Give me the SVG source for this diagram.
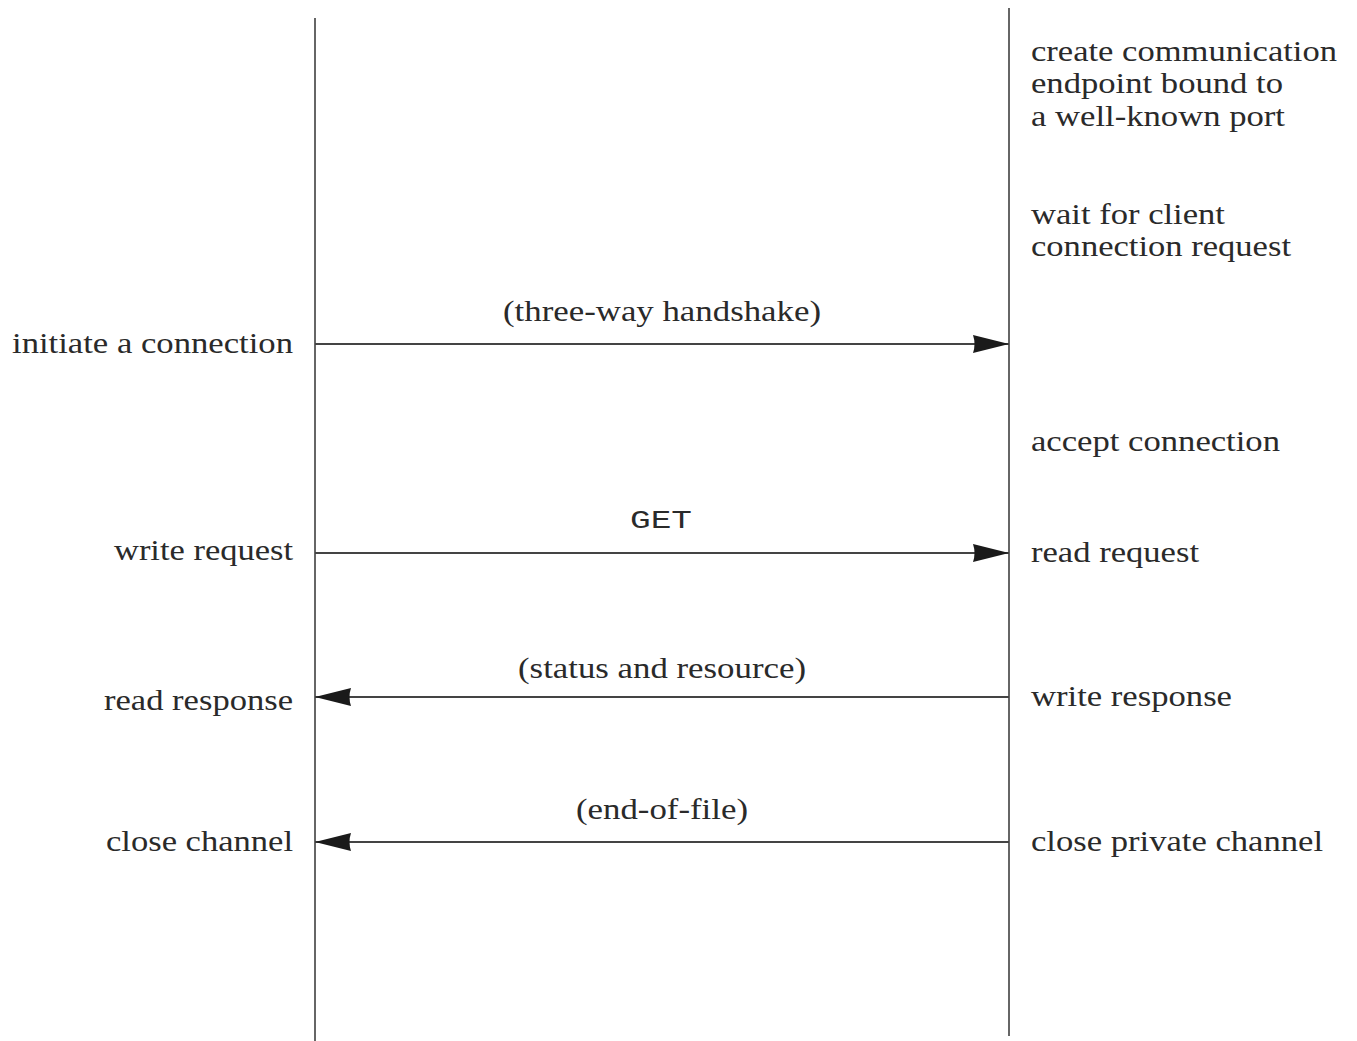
<svg xmlns="http://www.w3.org/2000/svg" width="1357" height="1041" viewBox="0 0 1357 1041">
<style>
.t{font-size:30px;fill:#2a2a2a}
.m{font-size:26px;fill:#2a2a2a}
.l{stroke:#666;stroke-width:2;fill:none}
.a{stroke:#444;stroke-width:2;fill:none;marker-end:url(#ah)}
.r{text-anchor:end}
.c{text-anchor:middle}
</style>
<defs>
<marker id="ah" markerUnits="userSpaceOnUse" markerWidth="38" markerHeight="20" refX="36" refY="10" orient="auto">
<path d="M0,1 L36,10 L0,19 Q3,10 0,1 z" fill="#1a1a1a"/>
</marker>
</defs>
<rect width="1357" height="1041" fill="#fff"/>
<g id="client" font-family="'Liberation Serif', Tinos, 'Times New Roman', serif">
<line class="l" x1="315" y1="18" x2="315" y2="1041"/>
<text class="t r" x="293" y="353" textLength="281" lengthAdjust="spacingAndGlyphs">initiate a connection</text>
<text class="t r" x="293" y="560" textLength="179" lengthAdjust="spacingAndGlyphs">write request</text>
<text class="t r" x="293" y="710" textLength="189" lengthAdjust="spacingAndGlyphs">read response</text>
<text class="t r" x="293" y="851" textLength="187" lengthAdjust="spacingAndGlyphs">close channel</text>
</g>
<g id="server" font-family="'Liberation Serif', Tinos, 'Times New Roman', serif">
<line class="l" x1="1009" y1="8" x2="1009" y2="1036"/>
<text class="t" x="1031" y="61" textLength="306" lengthAdjust="spacingAndGlyphs">create communication</text>
<text class="t" x="1031" y="93" textLength="252" lengthAdjust="spacingAndGlyphs">endpoint bound to</text>
<text class="t" x="1031" y="126" textLength="254" lengthAdjust="spacingAndGlyphs">a well-known port</text>
<text class="t" x="1031" y="224" textLength="194" lengthAdjust="spacingAndGlyphs">wait for client</text>
<text class="t" x="1031" y="256" textLength="260" lengthAdjust="spacingAndGlyphs">connection request</text>
<text class="t" x="1031" y="451" textLength="249" lengthAdjust="spacingAndGlyphs">accept connection</text>
<text class="t" x="1031" y="562" textLength="168" lengthAdjust="spacingAndGlyphs">read request</text>
<text class="t" x="1031" y="706" textLength="201" lengthAdjust="spacingAndGlyphs">write response</text>
<text class="t" x="1031" y="851" textLength="292" lengthAdjust="spacingAndGlyphs">close private channel</text>
</g>
<g id="connectors" font-family="'Liberation Serif', Tinos, 'Times New Roman', serif">
<line class="a" x1="315" y1="344" x2="1009" y2="344"/>
<line class="a" x1="315" y1="553" x2="1009" y2="553"/>
<line class="a" x1="1009" y1="697" x2="315" y2="697"/>
<line class="a" x1="1009" y1="842" x2="315" y2="842"/>
<text class="t c" x="662" y="321" textLength="318" lengthAdjust="spacingAndGlyphs">(three-way handshake)</text>
<text class="m c" x="661" y="528" textLength="62" lengthAdjust="spacingAndGlyphs" font-family="'Liberation Mono', Cousine, 'Courier New', 'DejaVu Sans Mono', monospace">GET</text>
<text class="t c" x="662" y="678" textLength="288" lengthAdjust="spacingAndGlyphs">(status and resource)</text>
<text class="t c" x="662" y="819" textLength="172" lengthAdjust="spacingAndGlyphs">(end-of-file)</text>
</g>
</svg>
